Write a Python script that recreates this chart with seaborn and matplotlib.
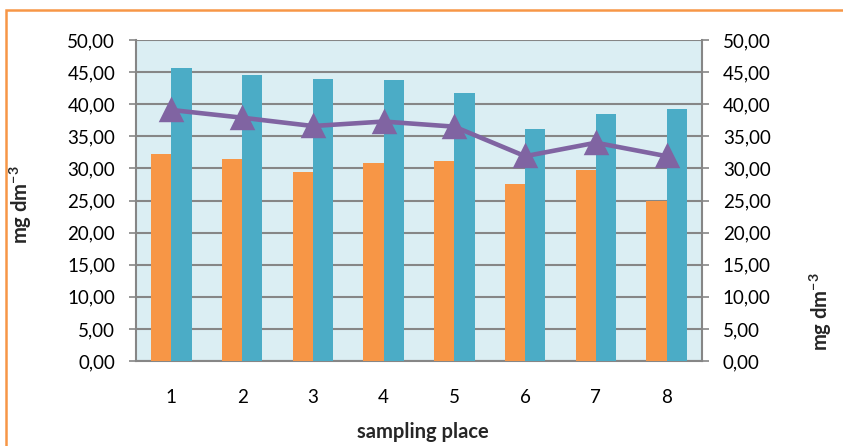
import matplotlib
matplotlib.use("Agg")
import matplotlib.pyplot as plt
from matplotlib.ticker import FuncFormatter, MultipleLocator
from matplotlib.patches import Rectangle
import seaborn as sns
import pandas as pd

# Measured concentrations per sampling place
places = ["1", "2", "3", "4", "5", "6", "7", "8"]
series_a = [32.2, 31.4, 29.4, 30.8, 31.1, 27.5, 29.7, 24.9]
series_b = [45.7, 44.6, 44.0, 43.7, 41.7, 36.1, 38.4, 39.2]
series_c = [39.1, 37.9, 36.6, 37.3, 36.5, 31.9, 34.0, 31.9]

ORANGE = "#F79646"
BLUE = "#4BACC6"
PURPLE = "#8064A2"
PANEL = "#DBEEF3"
GRID = "#868686"

sns.set_theme(style="white")
plt.rcParams["font.family"] = ["Lato", "DejaVu Sans"]
plt.rcParams["mathtext.fontset"] = "custom"
plt.rcParams["mathtext.rm"] = "Lato"
plt.rcParams["mathtext.bf"] = "Lato:bold"

bars = pd.DataFrame({
    "place": places * 2,
    "value": series_a + series_b,
    "series": ["a"] * len(places) + ["b"] * len(places),
})
line = pd.DataFrame({"place": places, "value": series_c})

fig = plt.figure(figsize=(8.43, 4.46), dpi=100)
ax = fig.add_axes([136 / 843, 1 - 361 / 446, 566 / 843, 321 / 446])
ax.set_facecolor(PANEL)

sns.barplot(data=bars, x="place", y="value", hue="series", order=places,
            palette=[ORANGE, BLUE], width=0.57, saturation=1, legend=False,
            linewidth=0, ax=ax, zorder=3)
sns.pointplot(data=line, x="place", y="value", order=places, color=PURPLE,
              markers="^", markersize=14, linewidth=3.3, ax=ax, zorder=5)

ax.set_xlim(-0.5, 7.5)
ax.set_ylim(0, 50)
ax.yaxis.set_major_locator(MultipleLocator(5))
fmt = FuncFormatter(lambda v, _: f"{v:.2f}".replace(".", ","))
ax.yaxis.set_major_formatter(fmt)
ax.grid(axis="y", color=GRID, linewidth=1.5, zorder=1)
ax.set_axisbelow(True)

for side in ("left", "right", "bottom"):
    ax.spines[side].set_color(GRID)
    ax.spines[side].set_linewidth(1.5)
ax.spines["top"].set_visible(False)

ax.tick_params(axis="y", which="major", left=True, length=5, width=1.2,
               color=GRID, pad=10, labelsize=13.5, labelcolor="black")
ax.tick_params(axis="x", length=0, pad=20, labelsize=13.5, labelcolor="black")
ax.set_xlabel("")
ax.set_ylabel("")

ax2 = ax.twinx()
ax2.set_ylim(0, 50)
ax2.yaxis.set_major_locator(MultipleLocator(5))
ax2.yaxis.set_major_formatter(fmt)
for side in ("left", "right", "bottom", "top"):
    ax2.spines[side].set_visible(False)
ax2.tick_params(axis="y", right=True, length=5, width=1.2, color=GRID,
                pad=10, labelsize=13.5, labelcolor="black")

# Axis titles
unit = r"mg dm$^{\mathbf{-3}}$"
fig.text(423 / 843, 1 - 432 / 446, "sampling place", ha="center", va="center",
         fontsize=14.5, fontweight="bold")
fig.text(21 / 843, 1 - 205 / 446, unit, rotation=90, ha="center",
         va="center", fontsize=14.5, fontweight="bold")
fig.text(821 / 843, 1 - 312 / 446, unit, rotation=90, ha="center",
         va="center", fontsize=14.5, fontweight="bold")

# Outer frame of the chart area
fig.patches.append(Rectangle((6 / 843, -0.1), 1.2, 1 - 10 / 446 + 0.1,
                             transform=fig.transFigure, fill=False,
                             edgecolor=ORANGE, linewidth=1.8))

fig.savefig("out.png", dpi=100)
